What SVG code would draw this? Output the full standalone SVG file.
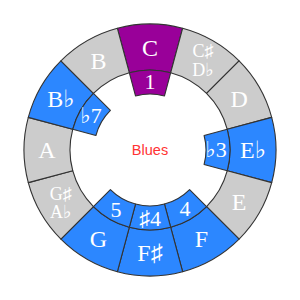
<svg xmlns="http://www.w3.org/2000/svg" width="300" height="300" viewBox="0 0 300 300">
<style>
.seg{stroke:#333;stroke-width:1.1;stroke-linejoin:round}
.gray{fill:#cccccc}
.blue{fill:#2c87ff}
.purple{fill:#990099}
.lbl{font-family:"Liberation Serif","DejaVu Serif",serif;fill:#fff;text-anchor:middle}
.big{font-size:24px}
.num{font-size:22px}
.small{font-size:18px}
.title{font-family:"Liberation Sans",Arial,sans-serif;font-size:14.5px;fill:#ff3333;text-anchor:middle}
</style>
<rect width="300" height="300" fill="#fff"/>
<g id="ring">
<g id="note-C"><path class="seg purple" d="M117.389,28.293 A126,126 0 0 1 182.611,28.293 L170.706,72.726 A80,80 0 0 0 129.294,72.726 Z"/><text class="lbl big" x="150" y="56">C</text></g>
<g id="note-Cs"><path class="seg gray" d="M182.611,28.293 A126,126 0 0 1 239.095,60.905 L206.569,93.431 A80,80 0 0 0 170.706,72.726 Z"/><text class="lbl small" x="203" y="57">C♯</text><text class="lbl small" x="203" y="76">D♭</text></g>
<g id="note-D"><path class="seg gray" d="M239.095,60.905 A126,126 0 0 1 271.707,117.389 L227.274,129.294 A80,80 0 0 0 206.569,93.431 Z"/><text class="lbl big" x="239.2" y="106.5">D</text></g>
<g id="note-Eb"><path class="seg blue" d="M271.707,117.389 A126,126 0 0 1 271.707,182.611 L227.274,170.706 A80,80 0 0 0 227.274,129.294 Z"/><text class="lbl big" x="253" y="158">E♭</text></g>
<g id="note-E"><path class="seg gray" d="M271.707,182.611 A126,126 0 0 1 239.095,239.095 L206.569,206.569 A80,80 0 0 0 227.274,170.706 Z"/><text class="lbl big" x="239.2" y="209.5">E</text></g>
<g id="note-F"><path class="seg blue" d="M239.095,239.095 A126,126 0 0 1 182.611,271.707 L170.706,227.274 A80,80 0 0 0 206.569,206.569 Z"/><text class="lbl big" x="201.5" y="247.2">F</text></g>
<g id="note-Fs"><path class="seg blue" d="M182.611,271.707 A126,126 0 0 1 117.389,271.707 L129.294,227.274 A80,80 0 0 0 170.706,227.274 Z"/><text class="lbl big" x="150" y="261">F♯</text></g>
<g id="note-G"><path class="seg blue" d="M117.389,271.707 A126,126 0 0 1 60.905,239.095 L93.431,206.569 A80,80 0 0 0 129.294,227.274 Z"/><text class="lbl big" x="98.5" y="247.2">G</text></g>
<g id="note-Gs"><path class="seg gray" d="M60.905,239.095 A126,126 0 0 1 28.293,182.611 L72.726,170.706 A80,80 0 0 0 93.431,206.569 Z"/><text class="lbl small" x="60.8" y="199.5">G♯</text><text class="lbl small" x="60.8" y="218">A♭</text></g>
<g id="note-A"><path class="seg gray" d="M28.293,182.611 A126,126 0 0 1 28.293,117.389 L72.726,129.294 A80,80 0 0 0 72.726,170.706 Z"/><text class="lbl big" x="47" y="158">A</text></g>
<g id="note-Bb"><path class="seg blue" d="M28.293,117.389 A126,126 0 0 1 60.905,60.905 L93.431,93.431 A80,80 0 0 0 72.726,129.294 Z"/><text class="lbl big" x="60.8" y="106.5">B♭</text></g>
<g id="note-B"><path class="seg gray" d="M60.905,60.905 A126,126 0 0 1 117.389,28.293 L129.294,72.726 A80,80 0 0 0 93.431,93.431 Z"/><text class="lbl big" x="98.5" y="68.8">B</text></g>
</g>
<g id="degrees">
<g id="deg-1"><path class="seg purple" d="M129.294,72.726 A80,80 0 0 1 170.706,72.726 L164.494,95.908 A56,56 0 0 0 135.506,95.908 Z"/><text class="lbl num" x="150" y="89">1</text></g>
<g id="deg-b3"><path class="seg blue" d="M227.274,129.294 A80,80 0 0 1 227.274,170.706 L204.092,164.494 A56,56 0 0 0 204.092,135.506 Z"/><text class="lbl num" x="216" y="157">♭3</text></g>
<g id="deg-4"><path class="seg blue" d="M206.569,206.569 A80,80 0 0 1 170.706,227.274 L164.494,204.092 A56,56 0 0 0 189.598,189.598 Z"/><text class="lbl num" x="185" y="216">4</text></g>
<g id="deg-s4"><path class="seg blue" d="M170.706,227.274 A80,80 0 0 1 129.294,227.274 L135.506,204.092 A56,56 0 0 0 164.494,204.092 Z"/><text class="lbl num" x="150" y="225.5">♯4</text></g>
<g id="deg-5"><path class="seg blue" d="M129.294,227.274 A80,80 0 0 1 93.431,206.569 L110.402,189.598 A56,56 0 0 0 135.506,204.092 Z"/><text class="lbl num" x="116" y="216.5">5</text></g>
<g id="deg-b7"><path class="seg blue" d="M72.726,129.294 A80,80 0 0 1 93.431,93.431 L110.402,110.402 A56,56 0 0 0 95.908,135.506 Z"/><text class="lbl num" x="91" y="123">♭7</text></g>
</g>
<text id="title" class="title" x="150" y="155">Blues</text>
</svg>
